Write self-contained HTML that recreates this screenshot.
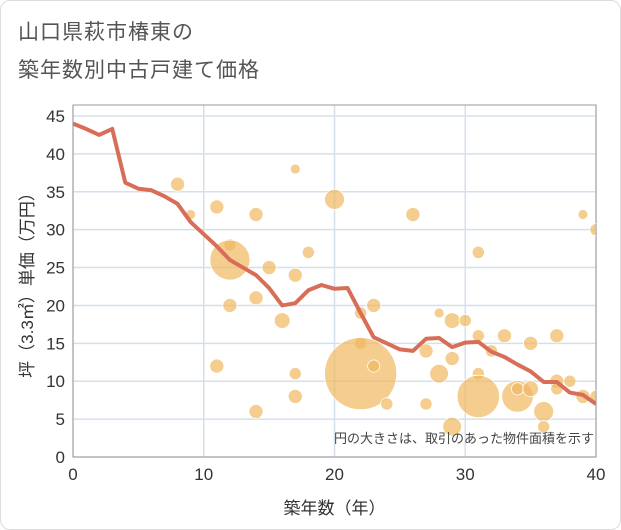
<!DOCTYPE html>
<html><head><meta charset="utf-8"><style>
body{margin:0;background:#fff;font-family:"Liberation Sans","Noto Sans CJK JP",sans-serif;}
#card{position:absolute;left:0;top:0;width:619px;height:528px;border:1px solid #ddd;border-radius:10px;background:#fff;}
.t{position:absolute;left:18px;font-size:21px;color:#555;letter-spacing:1px;}
</style></head><body>
<div id="card"></div>
<div class="t" style="top:16px">山口県萩市椿東の</div>
<div class="t" style="top:54px">築年数別中古戸建て価格</div>
<svg id="c" width="621" height="530" style="position:absolute;left:0;top:0"></svg>
<script>
const years=[0,1,2,3,4,5,6,7,8,9,10,11,12,13,14,15,16,17,18,19,20,21,22,23,24,25,26,27,28,29,30,31,32,33,34,35,36,37,38,39,40];
const avgPrice=[44,43.3,42.5,43.3,36.2,35.4,35.2,34.4,33.4,31,29.4,27.8,26,25,24,22.3,20,20.3,22,22.7,22.2,22.3,19,15.8,15,14.2,14,15.6,15.7,14.5,15.1,15.2,13.9,13.2,12.2,11.3,9.9,9.9,8.5,8.2,7];
const bubbleAge=[8,9,11,12,12,14,15,17,17,18,20,12,14,16,11,17,17,14,22,23,22,22,23,24,26,28,27,29,30,29,28,27,29,31,31,32,31,31,33,34,34,35,35,36,36,37,37,37,38,39,39,40,40];
const bubblePrice=[36,32,33,28,26,32,25,38,24,27,34,20,21,18,12,11,8,6,19,20,15,11,12,7,32,19,14,18,18,13,11,7,4,27,16,14,11,8,16,8,9,15,9,6,4,16,10,9,10,32,8,30,8];
const bubbleArea=[2,1,2,1.5,16,2,2,1,2,1.5,4,2,2,2.5,2,1.5,2,2,1.5,2,1.5,52,1.5,1.5,2,1,2,2.5,1.5,2,3.5,1.5,3.5,1.5,1.5,1.5,1.5,18,2,10,1.5,2,2.5,4,1.5,2,2,1.5,1.5,1,2,1.5,1.5];
const xTicks=[0,10,20,30,40];
const yTicks=[0,5,10,15,20,25,30,35,40,45];
const L=73,R=596,T=105,B=457;
const xs=v=>L+(R-L)*v/40, ys=v=>B-(B-116)*v/45;
const rs=a=>5*Math.sqrt(a);
const s=document.getElementById('c');const NS='http://www.w3.org/2000/svg';
function mk(t,a,p){const e=document.createElementNS(NS,t);for(const k in a)e.setAttribute(k,a[k]);(p||s).appendChild(e);return e;}
const clip=mk('clipPath',{id:'cp'});mk('rect',{x:L,y:T,width:R-L,height:B-T},clip);
yTicks.forEach(v=>{const g=mk('line',{x1:L,x2:R,y1:ys(v),y2:ys(v),stroke:'#d5e0ec','stroke-width':1.5});

const t=mk('text',{x:L-8,y:ys(v)+6,'text-anchor':'end','font-size':17,fill:'#333'});t.textContent=v;
});
xTicks.forEach(v=>{const g=mk('line',{x1:xs(v),x2:xs(v),y1:T,y2:B,stroke:'#d5e0ec','stroke-width':1.5});

const t=mk('text',{x:xs(v),y:B+23,'text-anchor':'middle','font-size':17,fill:'#333'});t.textContent=v;
});
const fr=mk('rect',{x:L,y:T,width:R-L,height:B-T,fill:'none',stroke:'#999','stroke-width':1});

const bg=mk('g',{'clip-path':'url(#cp)'});
bubbleAge.forEach((a,i)=>{const c=mk('circle',{cx:xs(a),cy:ys(bubblePrice[i]),r:rs(bubbleArea[i]),fill:'#f0b860','fill-opacity':0.7,stroke:'#fff','stroke-width':0.8},bg);
});
const ln=mk('polyline',{points:years.map((y,i)=>xs(y)+','+ys(avgPrice[i])).join(' '),fill:'none',stroke:'#d86e58','stroke-width':4,'stroke-linejoin':'round'},bg);

const n=mk('text',{x:R-2,y:443,'text-anchor':'end','font-size':13,fill:'#444'});n.textContent='円の大きさは、取引のあった物件面積を示す';

const xt=mk('text',{x:(L+R)/2,y:514,'text-anchor':'middle','font-size':17,fill:'#333'});xt.textContent='築年数（年）';

const yt=mk('text',{x:0,y:0,'text-anchor':'middle','font-size':17,fill:'#333',transform:'translate(33,'+((T+B)/2)+') rotate(-90)'});yt.textContent='坪（3.3㎡）単価（万円）';

</script>
</body></html>
